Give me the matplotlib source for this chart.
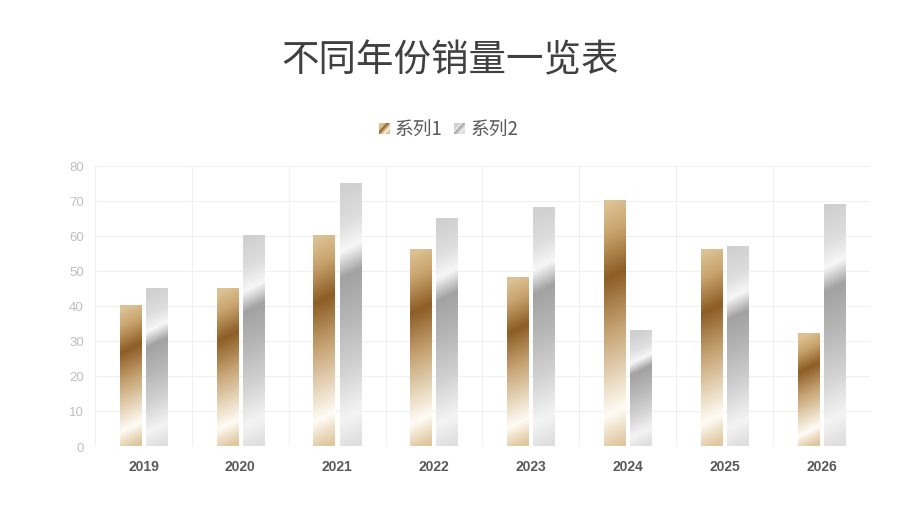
import numpy as np
import matplotlib
matplotlib.use('Agg')
import matplotlib.pyplot as plt
from matplotlib.colors import to_rgb

plt.rcParams['font.family'] = ['Noto Sans CJK SC', 'DejaVu Sans']

# data
years = ['2019', '2020', '2021', '2022', '2023', '2024', '2025', '2026']
series1 = [40, 45, 60, 56, 48, 70, 56, 32]
series2 = [45, 60, 75, 65, 68, 33, 57, 69]
names = ['系列1', '系列2']
yticks = [0, 10, 20, 30, 40, 50, 60, 70, 80]

# gradient stops (fraction from top of bar, colour)
gold_stops = [(0.0, '#dbc193'), (0.12, '#c9a46e'), (0.30, '#8d5d25'),
              (0.52, '#c6a373'), (0.72, '#e9d8bd'), (0.86, '#fffcf6'),
              (0.94, '#ecdcc1'), (1.0, '#dfc7a0')]
silver_stops = [(0.0, '#d0d0d0'), (0.14, '#dedede'), (0.24, '#f7f7f7'),
                (0.34, '#a2a2a2'), (0.5, '#b5b5b5'), (0.7, '#d2d2d2'),
                (0.88, '#f4f4f4'), (1.0, '#dedede')]


def grad_img(stops, w_px, h_px, slope=0.5):
    ny = max(int(h_px), 2)
    nx = max(int(w_px), 2)
    yy, xx = np.mgrid[0:ny, 0:nx]
    t = (yy + slope * (xx - nx / 2.0)) / ny
    t = np.clip(t, 0, 1)
    pos = [s[0] for s in stops]
    cols = np.array([to_rgb(s[1]) for s in stops])
    img = np.zeros((ny, nx, 3))
    for c in range(3):
        img[..., c] = np.interp(t, pos, cols[:, c])
    return img


fig = plt.figure(figsize=(9, 5.06), dpi=100)
ax = fig.add_axes([0.1056, 0.1166, 0.861, 0.5534])

n = len(years)
x = np.arange(n)
bw = 0.22
gap = 0.05
px_per_x = 0.861 * 900 / n
px_per_y = 0.5534 * 506 / 80

for i in range(n):
    for val, stops, off in [(series1[i], gold_stops, -(bw + gap) / 2),
                            (series2[i], silver_stops, (bw + gap) / 2)]:
        x0 = x[i] + off - bw / 2
        img = grad_img(stops, bw * px_per_x, val * px_per_y)
        ax.imshow(img, extent=(x0, x0 + bw, 0, val), aspect='auto',
                  interpolation='bilinear', origin='upper', zorder=3)

ax.set_xlim(-0.5, n - 0.5)
ax.set_ylim(0, 80)

# grid
for yv in yticks:
    ax.axhline(yv, color='#f0f0f0', lw=0.8, zorder=1)
for b in np.arange(-0.5, n, 1.0):
    ax.axvline(b, color='#f0f0f0', lw=0.8, zorder=1)
for s in ax.spines.values():
    s.set_visible(False)

ax.set_xticks(x)
ax.set_xticklabels(years, fontsize=10, fontweight='bold', color='#595959',
                   family='Liberation Sans')
ax.set_yticks(yticks)
ax.set_yticklabels([str(v) for v in yticks], fontsize=9.5, color='#bfbfbf',
                   family='Liberation Sans')
ax.tick_params(length=0)
ax.tick_params(axis='x', pad=9)
ax.tick_params(axis='y', pad=8)

fig.text(0.5, 0.88, '不同年份销量一览表', ha='center', va='center',
         fontsize=27, color='#404040')

# legend
for lx, tx, stops, name in [(0.421, 0.439, gold_stops, names[0]),
                            (0.504, 0.523, silver_stops, names[1])]:
    lax = fig.add_axes([lx, 0.733, 0.012, 0.022])
    lax.imshow(grad_img(stops, 11, 11, slope=1.0), aspect='auto',
               interpolation='bilinear')
    lax.axis('off')
    fig.text(tx, 0.743, name, ha='left', va='center', fontsize=13.5,
             color='#595959')

fig.savefig('out.png', dpi=100)
